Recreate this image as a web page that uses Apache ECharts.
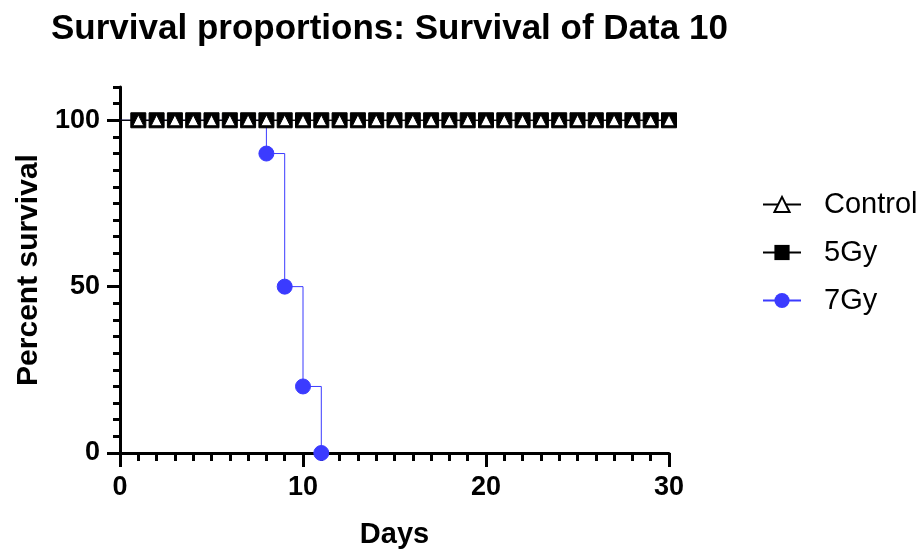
<!DOCTYPE html>
<html>
<head>
<meta charset="utf-8">
<script src="https://cdn.jsdelivr.net/npm/echarts@6/dist/echarts.min.js"></script>
<style>html,body{margin:0;padding:0;background:#fff}#c{width:922px;height:550px}</style>
</head>
<body>
<div id="c"></div>
<script>
const titleText = 'Survival proportions: Survival of Data 10';
const seriesNames = ['Control', '5Gy', '7Gy'];
const controlDays = [0,1,2,3,4,5,6,7,8,9,10,11,12,13,14,15,16,17,18,19,20,21,22,23,24,25,26,27,28,29,30];
const controlValues = [100,100,100,100,100,100,100,100,100,100,100,100,100,100,100,100,100,100,100,100,100,100,100,100,100,100,100,100,100,100,100];
const gy5Days = [0,1,2,3,4,5,6,7,8,9,10,11,12,13,14,15,16,17,18,19,20,21,22,23,24,25,26,27,28,29,30];
const gy5Values = [100,100,100,100,100,100,100,100,100,100,100,100,100,100,100,100,100,100,100,100,100,100,100,100,100,100,100,100,100,100,100];
const gy7Days = [0,8,9,10,11];
const gy7Values = [100,90,50,20,0];
const yTickLabels = [0,50,100];
const xTickLabels = [0,10,20,30];

const FONT = 'Liberation Sans, Arial, sans-serif';
const BLUE = '#3b3bff';

function build(days, vals) {
  return days.map((d, i) => i === 0 ? {value: [d, vals[i]], symbol: 'none'} : [d, vals[i]]);
}

const chart = echarts.init(document.getElementById('c'), null, {renderer: 'canvas'});
chart.setOption({
  animation: false,
  backgroundColor: '#fff',
  title: {
    text: titleText, left: 46, top: 7,
    textStyle: {fontFamily: FONT, fontWeight: 'bold', fontSize: 35, color: '#000'}
  },
  grid: {left: 120, right: 253, top: 87, bottom: 97, containLabel: false, outerBoundsMode: 'none'},
  legend: {
    data: seriesNames, orient: 'vertical', left: 757, top: 185,
    itemWidth: 38, itemHeight: 19, itemGap: 19,
    textStyle: {fontFamily: FONT, fontSize: 29, color: '#000', padding: [0,0,0,18]}
  },
  xAxis: {
    type: 'value', min: 0, max: 30, interval: 10,
    name: 'Days', nameLocation: 'middle', nameGap: 67,
    nameTextStyle: {fontFamily: FONT, fontWeight: 'bold', fontSize: 29, color: '#000'},
    axisLine: {show: true, onZero: false, lineStyle: {color: '#000', width: 3}},
    axisTick: {show: true, length: 14, lineStyle: {color: '#000', width: 3}},
    minorTick: {show: true, splitNumber: 10, length: 8, lineStyle: {color: '#000', width: 3}},
    axisLabel: {fontFamily: FONT, fontWeight: 'bold', fontSize: 27, color: '#000', margin: 21},
    splitLine: {show: false}
  },
  yAxis: [{
    type: 'value', min: 0, max: 110, interval: 5,
    axisLine: {show: true, onZero: false, lineStyle: {color: '#000', width: 3}},
    axisTick: {show: true, length: 7, lineStyle: {color: '#000', width: 3}},
    axisLabel: {show: false},
    splitLine: {show: false}
  }, {
    type: 'value', min: 0, max: 110, position: 'left',
    name: 'Percent survival', nameLocation: 'middle', nameGap: 67,
    nameTextStyle: {fontFamily: FONT, fontWeight: 'bold', fontSize: 30, color: '#000'},
    axisLine: {show: false},
    axisTick: {show: true, length: 13, customValues: yTickLabels, lineStyle: {color: '#000', width: 3}},
    axisLabel: {fontFamily: FONT, fontWeight: 'bold', fontSize: 27, color: '#000', margin: 20, customValues: yTickLabels},
    splitLine: {show: false}
  }],
  series: [
    {
      name: '7Gy', type: 'line', step: 'end', yAxisIndex: 0,
      data: build(gy7Days, gy7Values),
      symbol: 'circle', symbolSize: 15,
      lineStyle: {color: BLUE, width: 1},
      itemStyle: {color: BLUE, borderColor: BLUE}, z: 2
    },
    {
      name: '5Gy', type: 'line', step: 'end', yAxisIndex: 0,
      data: build(gy5Days, gy5Values),
      symbol: 'rect', symbolSize: 15,
      lineStyle: {color: '#000', width: 1},
      itemStyle: {color: '#000', borderColor: '#000'}, z: 3
    },
    {
      name: 'Control', type: 'line', step: 'end', yAxisIndex: 0,
      data: build(controlDays, controlValues),
      symbol: 'triangle', symbolSize: 11,
      lineStyle: {color: '#000', width: 1},
      itemStyle: {color: '#fff', borderColor: '#000', borderWidth: 1}, z: 4
    }
  ]
});
</script>
</body>
</html>
